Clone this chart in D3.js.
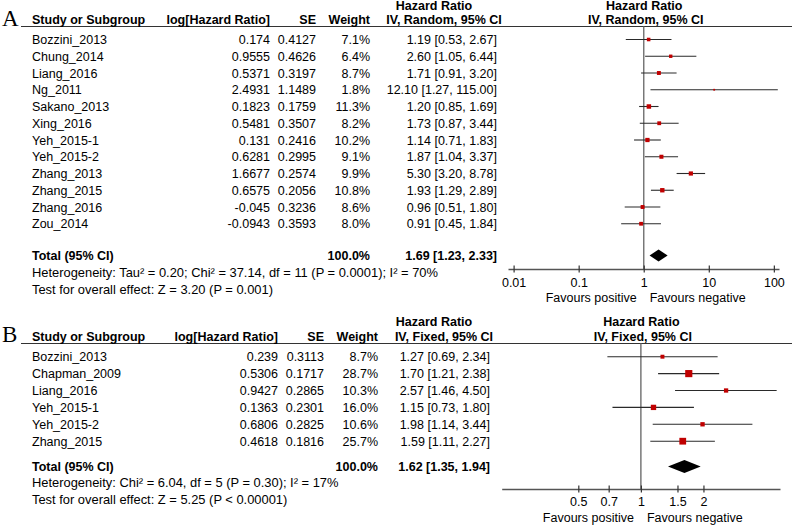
<!DOCTYPE html>
<html><head><meta charset="utf-8">
<script src="https://cdn.jsdelivr.net/npm/d3@7"></script>
<style>
body{margin:0;background:#fff}
svg{display:block}
text{font-family:"Liberation Sans",Arial,sans-serif;font-size:12.5px;fill:#000}
</style>
</head><body>
<svg id="c" width="792" height="525"></svg>
<script>
// ---------- Data: panel A (random effects) ----------
const studiesA = ["Bozzini_2013","Chung_2014","Liang_2016","Ng_2011","Sakano_2013","Xing_2016","Yeh_2015-1","Yeh_2015-2","Zhang_2013","Zhang_2015","Zhang_2016","Zou_2014"];
const logHRA = [0.174,0.9555,0.5371,2.4931,0.1823,0.5481,0.131,0.6281,1.6677,0.6575,-0.045,-0.0943];
const seA    = [0.4127,0.4626,0.3197,1.1489,0.1759,0.3507,0.2416,0.2995,0.2574,0.2056,0.3236,0.3593];
const weightA= [7.1,6.4,8.7,1.8,11.3,8.2,10.2,9.1,9.9,10.8,8.6,8.0];
const hrA    = [1.19,2.60,1.71,12.10,1.20,1.73,1.14,1.87,5.30,1.93,0.96,0.91];
const lowA   = [0.53,1.05,0.91,1.27,0.85,0.87,0.71,1.04,3.20,1.29,0.51,0.45];
const highA  = [2.67,6.44,3.20,115.00,1.69,3.44,1.83,3.37,8.78,2.89,1.80,1.84];
const totalA = [1.69,1.23,2.33];
const ticksA = [0.01,0.1,1,10,100];
const hetA = "Heterogeneity: Tau² = 0.20; Chi² = 37.14, df = 11 (P = 0.0001); I² = 70%";
const testA = "Test for overall effect: Z = 3.20 (P = 0.001)";

// ---------- Data: panel B (fixed effect) ----------
const studiesB = ["Bozzini_2013","Chapman_2009","Liang_2016","Yeh_2015-1","Yeh_2015-2","Zhang_2015"];
const logHRB = [0.239,0.5306,0.9427,0.1363,0.6806,0.4618];
const seB    = [0.3113,0.1717,0.2865,0.2301,0.2825,0.1816];
const weightB= [8.7,28.7,10.3,16.0,10.6,25.7];
const hrB    = [1.27,1.70,2.57,1.15,1.98,1.59];
const lowB   = [0.69,1.21,1.46,0.73,1.14,1.11];
const highB  = [2.34,2.38,4.50,1.80,3.44,2.27];
const totalB = [1.62,1.35,1.94];
const ticksB = [0.5,0.7,1,1.5,2];
const hetB = "Heterogeneity: Chi² = 6.04, df = 5 (P = 0.30); I² = 17%";
const testB = "Test for overall effect: Z = 5.25 (P < 0.00001)";

const svg = d3.select("#c");
const sizeScale = d3.scaleSqrt().domain([0,30]).range([0,7.3]);
const f2 = d => d.toFixed(2);

function panel(o){
  const g = svg.append("g");
  const x = d3.scaleLog().domain(o.domain).range(o.range);
  const rowY = i => o.row0 + i*o.step;

  // letter
  g.append("text").attr("x",2).attr("y",o.letterY).text(o.letter)
    .style("font-family","'Liberation Serif','Times New Roman',serif").style("font-size","23px");
  // header line
  g.append("line").attr("x1",21).attr("x2",792).attr("y1",o.lineY).attr("y2",o.lineY)
    .attr("stroke","#333").attr("stroke-width",1.2);
  // headers
  const hb = (t,xx,yy,anchor)=>g.append("text").attr("x",xx).attr("y",yy).attr("text-anchor",anchor)
    .style("font-weight","bold").text(t);
  hb("Study or Subgroup",32,o.h2,"start");
  hb("log[Hazard Ratio]",o.cols[0],o.h2,"end");
  hb("SE",o.cols[1],o.h2,"end");
  hb("Weight",o.cols[2],o.h2,"end");
  hb("Hazard Ratio",434,o.h1,"middle");
  hb(o.method,444,o.h2,"middle");
  hb("Hazard Ratio",x(1)+0.5,o.h1,"middle");
  hb(o.method,x(1)+2,o.h2,"middle");

  // rows
  const rows = g.selectAll("g.row").data(o.studies).join("g").attr("class","row");
  rows.append("text").attr("x",32).attr("y",(d,i)=>rowY(i)).attr("dy","0.36em").text(d=>d);
  rows.append("text").attr("x",o.cols[0]).attr("y",(d,i)=>rowY(i)).attr("dy","0.36em").attr("text-anchor","end").text((d,i)=>String(o.logHR[i]));
  rows.append("text").attr("x",o.cols[1]).attr("y",(d,i)=>rowY(i)).attr("dy","0.36em").attr("text-anchor","end").text((d,i)=>String(o.se[i]));
  rows.append("text").attr("x",o.cols[2]).attr("y",(d,i)=>rowY(i)).attr("dy","0.36em").attr("text-anchor","end").text((d,i)=>o.weight[i].toFixed(1)+"%");
  rows.append("text").attr("x",o.cols[3]).attr("y",(d,i)=>rowY(i)).attr("dy","0.36em").attr("text-anchor","end")
    .text((d,i)=>`${f2(o.hr[i])} [${f2(o.low[i])}, ${f2(o.high[i])}]`);

  // totals
  g.append("text").attr("x",32).attr("y",o.totalY).attr("dy","0.36em").style("font-weight","bold").text("Total (95% CI)");
  g.append("text").attr("x",o.cols[2]).attr("y",o.totalY).attr("dy","0.36em").attr("text-anchor","end").style("font-weight","bold").text("100.0%");
  g.append("text").attr("x",o.cols[3]).attr("y",o.totalY).attr("dy","0.36em").attr("text-anchor","end").style("font-weight","bold")
    .text(`${f2(o.total[0])} [${f2(o.total[1])}, ${f2(o.total[2])}]`);
  g.append("text").attr("x",32).attr("y",o.hetY).attr("dy","0.36em").style("font-size","12.9px").text(o.het);
  g.append("text").attr("x",32).attr("y",o.testY).attr("dy","0.36em").style("font-size","12.9px").text(o.test);

  // vertical line at 1
  g.append("line").attr("x1",x(1)).attr("x2",x(1)).attr("y1",o.lineY).attr("y2",o.axisY)
    .attr("stroke","#777").attr("stroke-width",1.5);

  // CIs
  g.selectAll("line.ci").data(o.studies).join("line").attr("class","ci")
    .attr("x1",(d,i)=>x(o.low[i])).attr("x2",(d,i)=>x(o.high[i]))
    .attr("y1",(d,i)=>rowY(i)).attr("y2",(d,i)=>rowY(i))
    .attr("stroke","#2a2a2a").attr("stroke-width",1.1);
  g.selectAll("rect.pt").data(o.studies).join("rect").attr("class","pt")
    .attr("x",(d,i)=>x(o.hr[i])-sizeScale(o.weight[i])/2)
    .attr("y",(d,i)=>rowY(i)-sizeScale(o.weight[i])/2)
    .attr("width",(d,i)=>sizeScale(o.weight[i]))
    .attr("height",(d,i)=>sizeScale(o.weight[i]))
    .attr("fill","#c00000");

  // diamond
  const t = o.total, yc = o.totalY, hh = o.dh;
  g.append("path").attr("d",`M${x(t[1])},${yc}L${x(t[0])},${yc-hh}L${x(t[2])},${yc}L${x(t[0])},${yc+hh}Z`).attr("fill","#000");

  // axis
  const ax = d3.axisBottom(x).tickValues(o.ticks).tickFormat(d=>String(d)).tickSizeOuter(0).tickSizeInner(3.5);
  const ag = g.append("g").attr("transform",`translate(0,${o.axisY})`).call(ax);
  ag.select(".domain").attr("stroke","#555").attr("stroke-width",1.5);
  ag.selectAll(".tick line").attr("y1",-3.5).attr("y2",3.5).attr("stroke","#333").attr("stroke-width",1.2);
  ag.selectAll(".tick text").attr("y",o.tickLabY).attr("dy","0.36em")
    .style("font-family","'Liberation Sans',Arial,sans-serif").style("font-size","12.5px").attr("fill","#000");
  g.append("text").attr("x",x(1)-7).attr("y",o.favY).attr("dy","0.36em").attr("text-anchor","end").text("Favours positive");
  g.append("text").attr("x",x(1)+6).attr("y",o.favY).attr("dy","0.36em").attr("text-anchor","start").text("Favours negative");
}

panel({letter:"A",studies:studiesA,logHR:logHRA,se:seA,weight:weightA,hr:hrA,low:lowA,high:highA,total:totalA,
  ticks:ticksA,het:hetA,test:testA,method:"IV, Random, 95% CI",
  domain:[0.0082,120],range:[508,779],letterY:26,lineY:26.5,h1:9.5,h2:24,row0:39.5,step:16.75,
  totalY:255.5,hetY:272.5,testY:289,axisY:269,tickLabY:13.5,favY:297.5,cols:[270,316,370,497],dh:6});

panel({letter:"B",studies:studiesB,logHR:logHRB,se:seB,weight:weightB,hr:hrB,low:lowB,high:highB,total:totalB,
  ticks:ticksB,het:hetB,test:testB,method:"IV, Fixed, 95% CI",
  domain:[0.214,4.67],range:[501.7,780],letterY:342,lineY:343.5,h1:326,h2:341,row0:356.7,step:16.9,
  totalY:466.5,hetY:482.5,testY:499,axisY:489,tickLabY:12,favY:517,cols:[278,324,378,490],dh:6.5});
</script>
</body></html>
